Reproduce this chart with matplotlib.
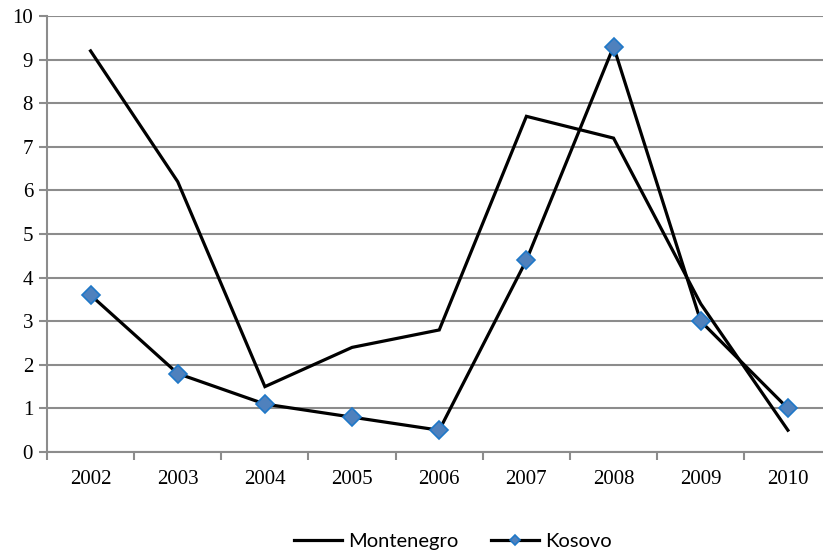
import matplotlib
matplotlib.use("Agg")
import matplotlib.pyplot as plt
import numpy as np

years = ["2002", "2003", "2004", "2005", "2006", "2007", "2008", "2009", "2010"]
montenegro = [9.2, 6.2, 1.5, 2.4, 2.8, 7.7, 7.2, 3.4, 0.5]
kosovo = [3.6, 1.8, 1.1, 0.8, 0.5, 4.4, 9.3, 3.0, 1.0]
y_ticks = list(range(0, 11))

fig = plt.figure(figsize=(8.23, 5.53), dpi=100)
ax = fig.add_axes([0.0571, 0.1826, 0.9532, 0.7884])

x = np.arange(len(years))
grid_c = "#8c8c8c"
for t in y_ticks:
    ax.axhline(t, color=grid_c, lw=1.5, zorder=1)

ax.plot(x, montenegro, color="black", lw=2.3, label="Montenegro", zorder=3,
        solid_joinstyle="miter")
ax.plot(x, kosovo, color="black", lw=2.3, marker="D", ms=9,
        markerfacecolor="#4F81BD", markeredgecolor="#1F78C8", markeredgewidth=1.2,
        label="Kosovo", zorder=4, solid_joinstyle="miter")

ax.set_xlim(-0.5, len(years) - 0.5)
ax.set_ylim(0, 10)
ax.set_yticks(y_ticks)
ax.set_xticks(x)
ax.set_xticklabels(years)
ax.set_xticks(np.arange(-0.5, len(years)), minor=True)
ax.tick_params(axis="x", which="major", length=0, pad=13)
ax.tick_params(axis="x", which="minor", length=6, width=1.5, color=grid_c, direction="out")
ax.tick_params(axis="y", length=6, width=1.5, color=grid_c, direction="out", pad=4)
for lab in ax.get_xticklabels() + ax.get_yticklabels():
    lab.set_fontfamily("Liberation Serif")
    lab.set_fontsize(15)

for s in ["top", "right"]:
    ax.spines[s].set_visible(False)
for s in ["left", "bottom"]:
    ax.spines[s].set_color(grid_c)
    ax.spines[s].set_linewidth(1.5)

leg = fig.legend(loc="center", bbox_to_anchor=(453 / 823, 1 - 541 / 553), ncol=2,
                 frameon=False, prop={"family": "Lato", "size": 14.5},
                 handlelength=2.4, columnspacing=1.6, handletextpad=0.3,
                 markerscale=0.6)

fig.savefig("out.png", dpi=100)
